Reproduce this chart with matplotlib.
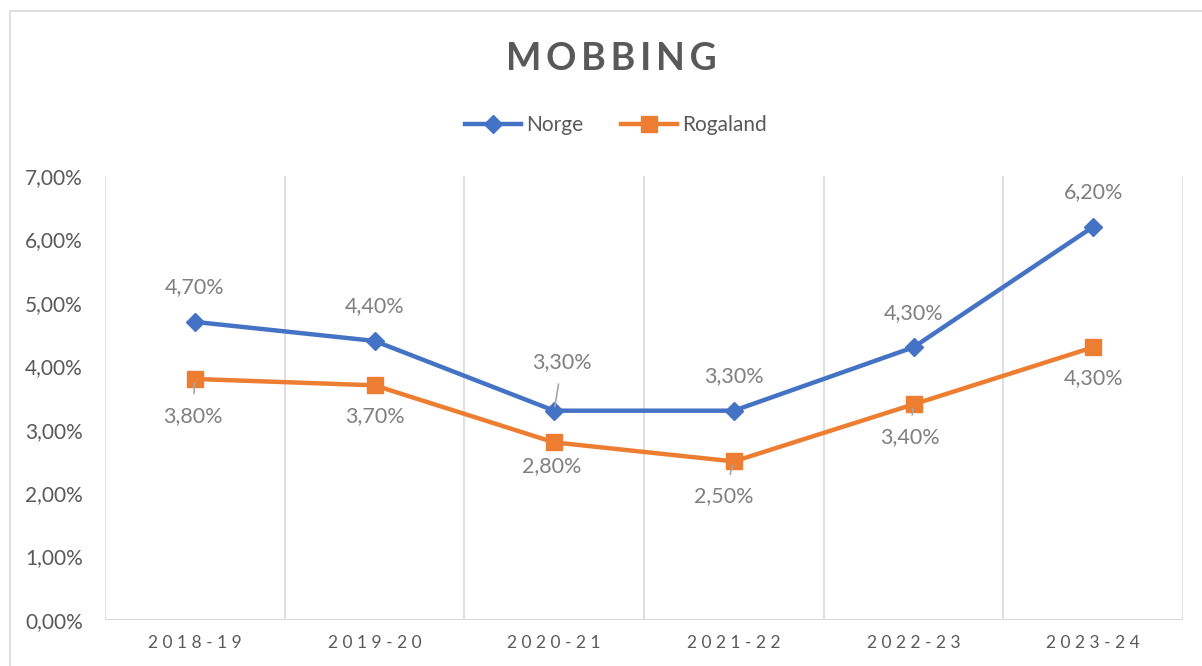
import matplotlib
matplotlib.use("Agg")
import matplotlib.pyplot as plt
from matplotlib.patches import Rectangle

plt.rcParams['font.family'] = ['Lato', 'DejaVu Sans']

# data
years = ["2018-19", "2019-20", "2020-21", "2021-22", "2022-23", "2023-24"]
norge = [4.7, 4.4, 3.3, 3.3, 4.3, 6.2]
rogaland = [3.8, 3.7, 2.8, 2.5, 3.4, 4.3]

# label offsets in pixels (dx, dy) and whether a leader line is drawn
norge_off = [(0, 35), (0, 35), (8, 49), (0, 35), (0, 34), (0, 35)]
norge_lead = [False, False, True, False, False, False]
rog_off = [(-2, -37), (0, -31), (-2, -24), (-10, -35), (-4, -33), (0, -31)]
rog_lead = [True, False, False, True, True, False]

BLUE = '#4472C4'
ORANGE = '#ED7D31'
TXT = '#595959'
LBL = '#7f7f7f'
GRID = '#d9d9d9'

fig = plt.figure(figsize=(12.02, 6.66), dpi=100)
ax = fig.add_axes([105 / 1202, 1 - 620 / 666, (1183 - 105) / 1202, (620 - 176) / 666])

# chart border
fig.patches.append(Rectangle((10 / 1202, -0.1), 1.2, 1.1 - 11 / 666, transform=fig.transFigure,
                             fill=False, edgecolor=GRID, lw=1.2))

x = list(range(len(years)))
ax.plot(x, norge, color=BLUE, lw=3.2, marker='D', ms=9.5, label='Norge', zorder=3)
ax.plot(x, rogaland, color=ORANGE, lw=3.2, marker='s', ms=11, label='Rogaland', zorder=3)

px = 72 / 100


def labels(vals, offs, leads):
    for i, v in enumerate(vals):
        dx, dy = offs[i]
        kw = {}
        if leads[i]:
            kw['arrowprops'] = dict(arrowstyle='-', color='#a6a6a6', lw=1.2, shrinkA=7, shrinkB=3)
        ax.annotate(f"{v:.2f}%".replace('.', ','), (i, v), xytext=(dx * px, dy * px),
                    textcoords='offset points', ha='center', va='center',
                    fontsize=15.5, color=LBL, **kw)


labels(norge, norge_off, norge_lead)
labels(rogaland, rog_off, rog_lead)

ax.set_xlim(-0.5, len(years) - 0.5)
ax.set_ylim(0, 7)
ax.set_yticks(range(0, 8))
ax.set_yticklabels([f"{t},00%" for t in range(0, 8)], fontsize=15, color=TXT)
ax.set_xticks(x)
ax.set_xticklabels([" ".join(y) for y in years], fontsize=12.5, color=TXT)
ax.tick_params(length=0)
ax.tick_params(axis='y', pad=16)
ax.tick_params(axis='x', pad=11)

for b in [i - 0.5 for i in range(len(years) + 1)]:
    ax.axvline(b, color=GRID, lw=1.2, zorder=1)
for s in ax.spines.values():
    s.set_visible(False)
ax.axhline(0, color=GRID, lw=1.5, zorder=1)

fig.text(611 / 1202, 1 - 59 / 666, "\u2009".join("MOBBING"), ha='center', va='center',
         fontsize=27, fontweight='bold', color=TXT)

fig.legend(loc='center', bbox_to_anchor=(616 / 1202, 1 - 125 / 666), ncol=2, frameon=False,
           fontsize=15, labelcolor=TXT, handlelength=2.7, columnspacing=1.8, handletextpad=0.25)

fig.savefig("out.png", dpi=100)
